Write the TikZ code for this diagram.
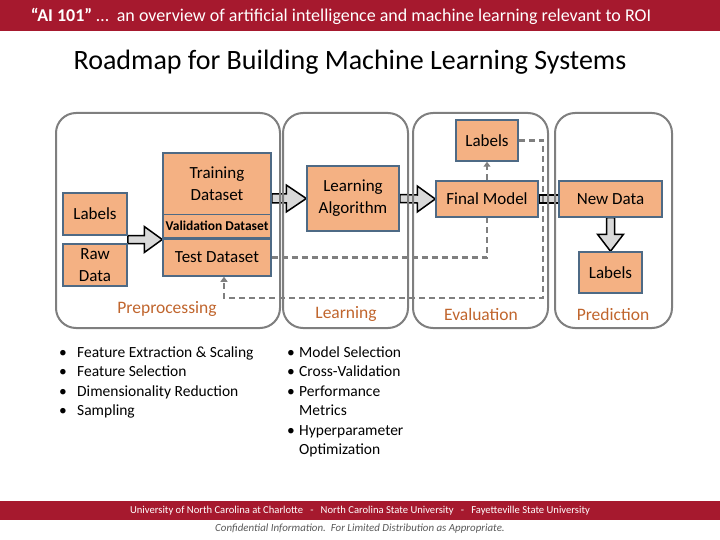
\documentclass[tikz,border=0pt]{standalone}
\usepackage{fontspec}
\setmainfont{Carlito}
\usetikzlibrary{calc,arrows.meta}
\definecolor{barred}{HTML}{A6192E}
\definecolor{boxfill}{HTML}{F4B183}
\definecolor{boxline}{HTML}{4E6A85}
\definecolor{panelline}{HTML}{7F7F7F}
\definecolor{stagecol}{HTML}{C0652D}
\definecolor{arrowfill}{HTML}{D9D9D9}
\definecolor{confgray}{HTML}{595959}
\pgfdeclarelayer{bglayer}
\pgfdeclarelayer{midlayer}
\pgfsetlayers{bglayer,midlayer,main}
\newcommand{\myHArrow}[5]{%
  \draw[blockarr] ($(#1)+(0,-#3)$) -- ($(#2)+(-#5,-#3)$) -- ($(#2)+(-#5,-#4)$) -- (#2)
    -- ($(#2)+(-#5,#4)$) -- ($(#2)+(-#5,#3)$) -- ($(#1)+(0,#3)$) -- cycle;}
\begin{document}
\begin{tikzpicture}[x=1pt,y=-1pt,
  box/.style={draw=boxline, fill=boxfill, line width=1.5pt, inner sep=0pt, align=center,
    font=\fontsize{17}{22}\selectfont},
  panel/.style={draw=panelline, line width=2pt, rounded corners=20pt, inner sep=0pt},
  stage/.style={text=stagecol, font=\fontsize{17.5}{20}\selectfont},
  blockarr/.style={draw=black, fill=arrowfill, line width=1.5pt, line join=miter},
  dashline/.style={draw=panelline, line width=2.5pt, dash pattern=on 6pt off 4pt},
  bul/.style={anchor=base west, inner sep=0pt, font=\fontsize{15.5}{19.5}\selectfont},
]
\useasboundingbox (0,0) rectangle (720,540);
% bars
\fill[barred] (0,0) rectangle (720,31);
\node[text=white, font=\fontsize{18}{20}\selectfont] (topline) at (341,16)
  {\textbf{“AI 101”} …\ \ an overview of artificial intelligence and machine learning relevant to ROI};
\node[font=\fontsize{28}{32}\selectfont] (title) at (350,62) {Roadmap for Building Machine Learning Systems};
\fill[barred] (0,501) rectangle (720,520);
\node[text=white, font=\fontsize{10.6}{12}\selectfont] (unis) at (360,511)
  {University of North Carolina at Charlotte\ \ \ -\ \ \ North Carolina State University\ \ \ -\ \ \ Fayetteville State University};
\node[text=confgray, font=\fontsize{10.9}{12}\selectfont\itshape] (conf) at (360,529)
  {Confidential Information.\ \ For Limited Distribution as Appropriate.};

% boxes
\node[box, minimum width=64pt, minimum height=42pt] (labels) at (95,214) {Labels};
\node[box, minimum width=64pt, minimum height=42pt] (raw) at (95,265) {Raw\\Data};
\node[box, minimum width=108pt, minimum height=61.5pt] (train) at (217,183.75) {Training\\Dataset};
\node[box, minimum width=108pt, minimum height=23.5pt, font=\fontsize{13.5}{15}\selectfont\bfseries] (valid) at (217,226.25) {Validation Dataset};
\node[box, minimum width=108pt, minimum height=37pt] (test) at (217,257.5) {Test Dataset};
\node[box, minimum width=92pt, minimum height=65pt] (algo) at (353,198.5) {Learning\\Algorithm};
\node[box, minimum width=102pt, minimum height=36pt] (final) at (487,199) {Final Model};
\node[box, minimum width=62pt, minimum height=41pt] (labtop) at (487,140.5) {Labels};
\node[box, minimum width=103pt, minimum height=36pt] (newdata) at (610.5,199) {New Data};
\node[box, minimum width=63pt, minimum height=41pt] (labbot) at (610.5,272.5) {Labels};

% panels
\begin{pgfonlayer}{midlayer}
\node[panel, minimum width=224pt, minimum height=215pt] (pprep) at (168,220.5) {};
\node[panel, minimum width=125pt, minimum height=215pt] (plearn) at (345.5,220.5) {};
\node[panel, minimum width=135pt, minimum height=215pt] (peval) at (480.5,220.5) {};
\node[panel, minimum width=117pt, minimum height=215pt] (ppred) at (613.5,220.5) {};
% dashed connectors
\draw[dashline] (test.east) -- (test.east -| final.south) -- (final.south);
\draw[dashline, -{Triangle[width=7pt,length=5pt]}] (final.north) -- (labtop.south);
\coordinate (loopc) at (543,298);
\draw[dashline, -{Triangle[width=7pt,length=5pt]}] (labtop.east) -| (loopc) -| ($(test.south)+(7,0)$);
\end{pgfonlayer}

% block arrows
\begin{pgfonlayer}{bglayer}
\coordinate (a1) at ($(labels.south east)!0.5!(raw.north east)$);
\coordinate (a1t) at (a1 -| test.west);
\myHArrow{a1}{a1t}{4}{13}{18}
\coordinate (b1) at (train.east |- algo.west);
\myHArrow{b1}{algo.west}{4.5}{13.5}{20}
\myHArrow{algo.east}{final.west}{4}{13}{18}
\draw[blockarr] ($(final.east)+(0,-4)$) rectangle ($(newdata.west)+(0,4)$);
\draw[blockarr] ($(newdata.south)+(-4,0)$) -- ($(labbot.north)+(-4,-17)$) -- ($(labbot.north)+(-13,-17)$)
  -- (labbot.north) -- ($(labbot.north)+(13,-17)$) -- ($(labbot.north)+(4,-17)$) -- ($(newdata.south)+(4,0)$) -- cycle;
\end{pgfonlayer}

% stage labels
\node[stage] (sprep) at (167,309) {Preprocessing};
\node[stage] (slearn) at (346,314) {Learning};
\node[stage] (seval) at (481,314) {Evaluation};
\node[stage] (spred) at (613,314) {Prediction};

% bullet lists
\foreach \t [count=\i] in {Feature Extraction \& Scaling, Feature Selection, Dimensionality Reduction, Sampling} {
  \node[bul] (lb\i) at (59,{357.5+(\i-1)*19.4}) {\makebox[18pt][l]{•}\t};
}
\node[bul] (rb1) at (287,357.5) {\makebox[12pt][l]{•}Model Selection};
\node[bul] (rb2) at (287,376.9) {\makebox[12pt][l]{•}Cross-Validation};
\node[bul] (rb3) at (287,396.3) {\makebox[12pt][l]{•}Performance};
\node[bul] (rb4) at (299,415.7) {Metrics};
\node[bul] (rb5) at (287,435.1) {\makebox[12pt][l]{•}Hyperparameter};
\node[bul] (rb6) at (299,454.5) {Optimization};
\end{tikzpicture}
\end{document}
